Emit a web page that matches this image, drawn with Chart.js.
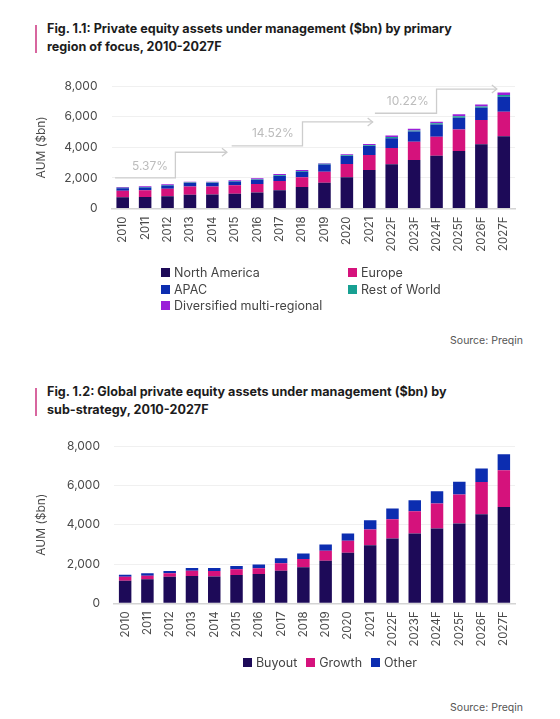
<!DOCTYPE html>
<html>
<head>
<meta charset="utf-8">
<script src="https://cdn.jsdelivr.net/npm/chart.js@4.4.1/dist/chart.umd.min.js"></script>
<style>
  body { margin: 0; background: #fff; width: 560px; height: 719px; position: relative; overflow: hidden; font-family: Inter, "Open Sans", sans-serif; }
  .title { position: absolute; left: 47px; font-weight: 700; font-size: 12.6px; line-height: 17.5px; color: #1c1c1c; }
  .mark { position: absolute; left: 35px; width: 2px; background: #d8669f; }
  .source { position: absolute; right: 37px; font-size: 10.5px; color: #555; }
  canvas { position: absolute; left: 0; }
  .legend { position: absolute; font-size: 12.5px; color: #444; }
  .legend .item { display: flex; align-items: center; white-space: nowrap; }
  .legend .box { width: 9px; height: 9px; margin-right: 4px; }
  #legend1 { left: 161px; top: 265px; display: grid; grid-template-columns: 187px auto; row-gap: 1.5px; }
  #legend2 { left: 0; width: 660px; top: 655px; display: flex; justify-content: center; gap: 9px; }
</style>
</head>
<body>
<div class="mark" style="top:25px;height:28px"></div>
<div class="title" style="top:20px">Fig. 1.1: Private equity assets under management ($bn) by primary<br>region of focus, 2010-2027F</div>
<canvas id="regionChart" width="530" height="201" style="top:65px;width:530px;height:201px"></canvas>
<div class="legend" id="legend1"></div>
<div class="source" style="top:334px">Source: Preqin</div>

<div class="mark" style="top:388px;height:28px"></div>
<div class="title" style="top:383px">Fig. 1.2: Global private equity assets under management ($bn) by<br>sub-strategy, 2010-2027F</div>
<canvas id="strategyChart" width="530" height="232" style="top:425px;width:530px;height:232px"></canvas>
<div class="legend" id="legend2"></div>
<div class="source" style="top:701px">Source: Preqin</div>

<script>
const years = ["2010", "2011", "2012", "2013", "2014", "2015", "2016", "2017", "2018",
  "2019", "2020", "2021", "2022F", "2023F", "2024F", "2025F", "2026F", "2027F"];

// Fig 1.1 - by region ($bn)
const northAmerica = [740, 760, 800, 900, 910, 960, 1040, 1200, 1400, 1690, 2040, 2520, 2890, 3170, 3450, 3760, 4200, 4730];
const europe = [420, 440, 500, 540, 530, 560, 560, 600, 640, 720, 870, 980, 1070, 1200, 1240, 1400, 1590, 1600];
const apac = [170, 180, 200, 230, 230, 240, 280, 330, 360, 470, 520, 590, 640, 660, 800, 780, 800, 980];
const restOfWorld = [30, 30, 35, 35, 35, 40, 40, 50, 50, 40, 50, 55, 70, 80, 80, 90, 90, 110];
const diversified = [40, 45, 45, 45, 45, 40, 60, 80, 70, 40, 65, 75, 110, 110, 110, 130, 130, 170];

// CAGR labels on the step arrows
const growthRates = ["5.37%", "14.52%", "10.22%"];

// Fig 1.2 - by sub-strategy ($bn)
const buyout = [1150, 1220, 1350, 1390, 1370, 1440, 1490, 1660, 1830, 2170, 2570, 2950, 3305, 3560, 3815, 4070, 4540, 4910];
const growth = [200, 185, 175, 270, 270, 290, 290, 375, 420, 510, 610, 810, 980, 1130, 1270, 1475, 1640, 1870];
const other = [100, 120, 115, 135, 155, 170, 200, 255, 290, 320, 380, 470, 545, 560, 625, 640, 680, 810];

const yTicks = [0, 2000, 4000, 6000, 8000];

const NAVY = "#1d0a58", PINK = "#d5127c", BLUE = "#0c2db0", TEAL = "#17a092", PURPLE = "#9a1ed8";

// arrow geometry in axis units (category index / $bn)
const steps = [
  { from: -0.34, turn: 2.35, to: 4.65, low: 2000, high: 3680, labelAt: 1.22, labelY: 2780 },
  { from: 4.86, turn: 8.02, to: 11.15, low: 4090, high: 5660, labelAt: 6.7, labelY: 4940 },
  { from: 11.25, turn: 14.0, to: 16.69, low: 6230, high: 7815, labelAt: 12.72, labelY: 6985 },
];

const stepArrows = {
  id: "stepArrows",
  beforeDatasetsDraw(chart) {
    const { ctx, scales: { x, y } } = chart;
    ctx.save();
    ctx.strokeStyle = "#cdcdcd";
    ctx.lineWidth = 1.3;
    ctx.fillStyle = "#bcbcbc";
    ctx.font = "12px Inter";
    ctx.textAlign = "center";
    ctx.textBaseline = "middle";
    steps.forEach((s, i) => {
      const xa = x.getPixelForValue(s.from), xb = x.getPixelForValue(s.turn), xc = x.getPixelForValue(s.to);
      const ya = y.getPixelForValue(s.low), yb = y.getPixelForValue(s.high);
      ctx.beginPath();
      ctx.moveTo(xa, ya);
      ctx.lineTo(xb, ya);
      ctx.lineTo(xb, yb);
      ctx.lineTo(xc, yb);
      ctx.stroke();
      ctx.beginPath();
      ctx.moveTo(xc - 5, yb - 4);
      ctx.lineTo(xc, yb);
      ctx.lineTo(xc - 5, yb + 4);
      ctx.stroke();
      ctx.fillText(growthRates[i], x.getPixelForValue(s.labelAt), y.getPixelForValue(s.labelY));
    });
    ctx.restore();
  },
};

function baseOptions(yWidth, xHeight) {
  return {
    responsive: false,
    animation: false,
    layout: { padding: { top: 0, right: 15, left: 0, bottom: 0 } },
    plugins: { legend: { display: false }, tooltip: { enabled: false } },
    datasets: { bar: { categoryPercentage: 0.8, barPercentage: 0.7 } },
    scales: {
      x: {
        stacked: true,
        afterFit: (s) => { s.height = xHeight; },
        grid: { display: false, drawTicks: false },
        border: { color: "#d4d4d4", width: 1.5 },
        ticks: { color: "#4a4a4a", font: { family: "Inter", size: 11.5 }, minRotation: 90, maxRotation: 90, padding: 8, autoSkip: false },
      },
      y: {
        stacked: true,
        min: 0,
        max: 8000,
        afterFit: (s) => { s.width = yWidth; },
        afterBuildTicks: (s) => { s.ticks = yTicks.map((v) => ({ value: v })); },
        grid: { color: "#f0f0f0", drawTicks: false },
        border: { display: false },
        ticks: { color: "#4a4a4a", font: { family: "Inter", size: 12 }, padding: 14, callback: (v) => v.toLocaleString("en-US") },
        title: { display: true, text: "AUM ($bn)", color: "#4a4a4a", font: { family: "Inter", size: 12 }, padding: { top: 34 } },
      },
    },
  };
}

const regionSeries = [
  { label: "North America", data: northAmerica, backgroundColor: NAVY },
  { label: "Europe", data: europe, backgroundColor: PINK },
  { label: "APAC", data: apac, backgroundColor: BLUE },
  { label: "Rest of World", data: restOfWorld, backgroundColor: TEAL },
  { label: "Diversified multi-regional", data: diversified, backgroundColor: PURPLE },
];

const strategySeries = [
  { label: "Buyout", data: buyout, backgroundColor: NAVY },
  { label: "Growth", data: growth, backgroundColor: PINK },
  { label: "Other", data: other, backgroundColor: BLUE },
];

new Chart(document.getElementById("regionChart"), {
  type: "bar",
  data: { labels: years, datasets: regionSeries },
  options: baseOptions(111.5, 57.5),
  plugins: [stepArrows],
});

new Chart(document.getElementById("strategyChart"), {
  type: "bar",
  data: { labels: years, datasets: strategySeries },
  options: baseOptions(114, 53.7),
});

function fillLegend(el, series) {
  series.forEach((s) => {
    const item = document.createElement("div");
    item.className = "item";
    const box = document.createElement("span");
    box.className = "box";
    box.style.background = s.backgroundColor;
    item.appendChild(box);
    item.appendChild(document.createTextNode(s.label));
    el.appendChild(item);
  });
}
fillLegend(document.getElementById("legend1"), regionSeries);
fillLegend(document.getElementById("legend2"), strategySeries);
</script>
</body>
</html>
